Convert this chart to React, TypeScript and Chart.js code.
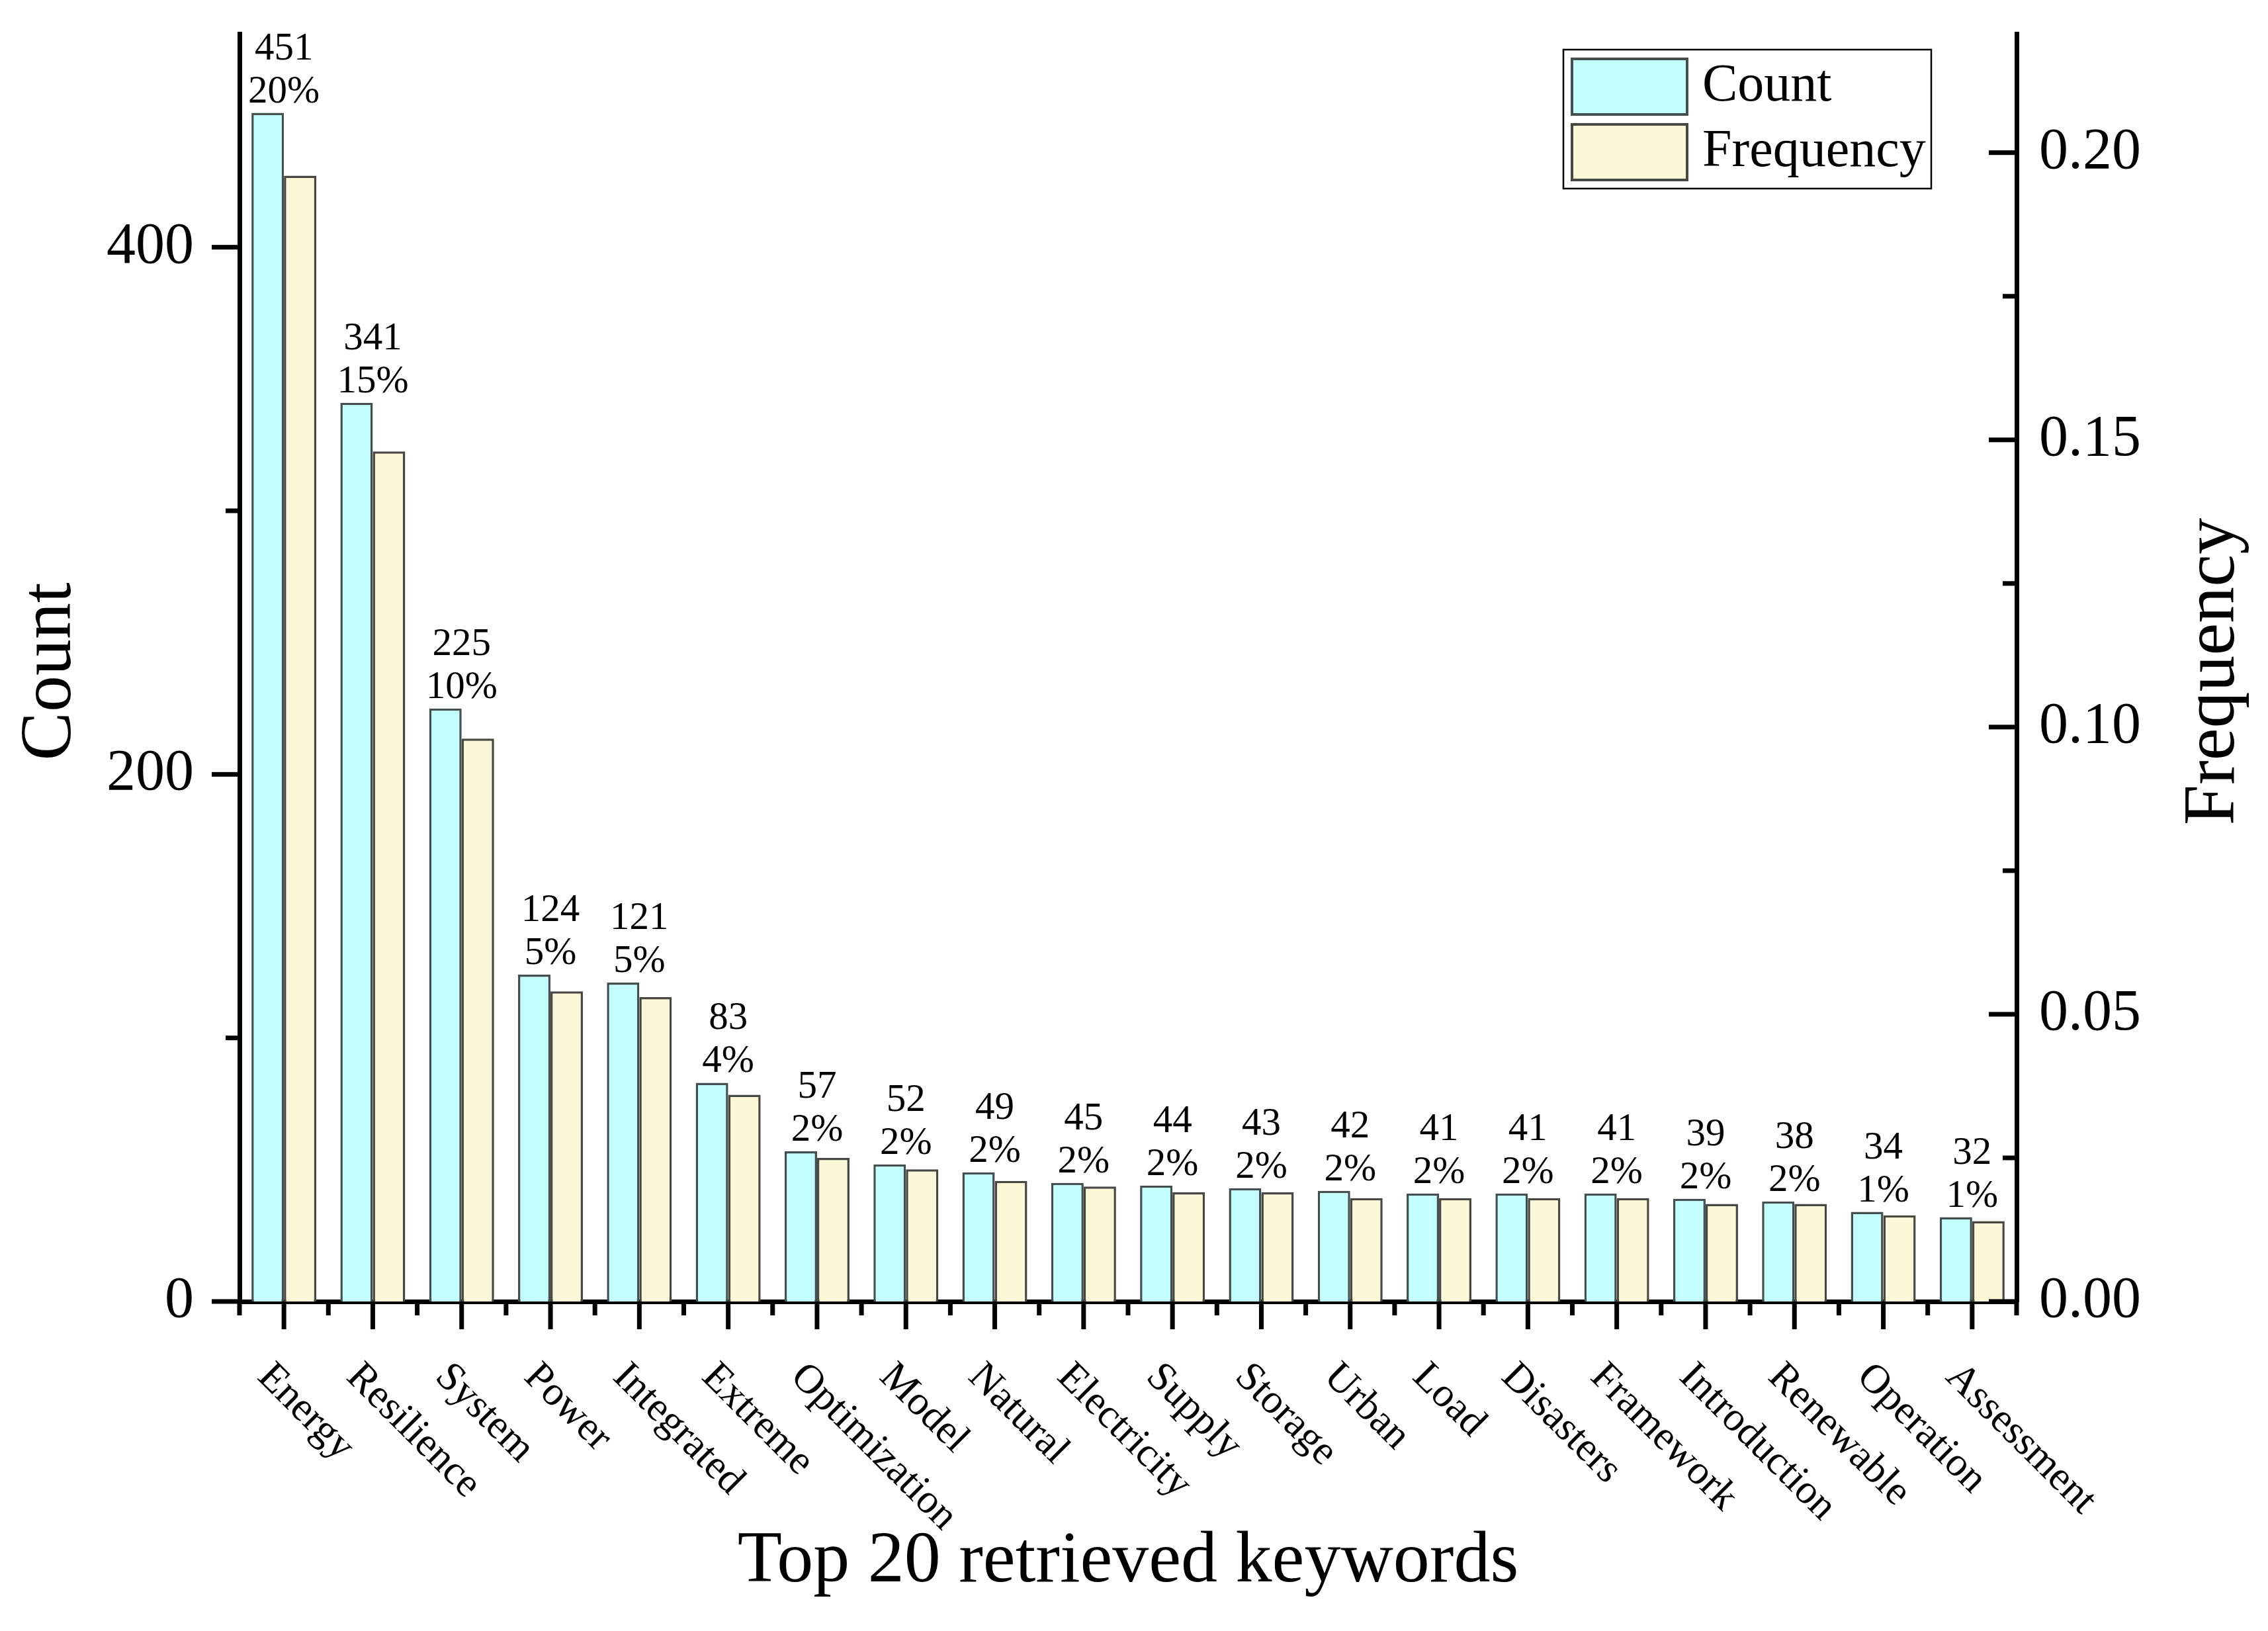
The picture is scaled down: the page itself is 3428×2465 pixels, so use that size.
import { useEffect, useRef } from 'react';
import { Chart, registerables } from 'chart.js';

Chart.register(...registerables);

const FONT = "'Liberation Serif', 'Times New Roman', serif";
const W = 3428;
const H = 2465;

// plot frame
const PLOT_LEFT = 362;
const PLOT_RIGHT = 3048;
const PLOT_TOP = 51;
const PLOT_BOTTOM = 1967;

const keywords = [
  'Energy', 'Resilience', 'System', 'Power', 'Integrated', 'Extreme', 'Optimization',
  'Model', 'Natural', 'Electricity', 'Supply', 'Storage', 'Urban', 'Load',
  'Disasters', 'Framework', 'Introduction', 'Renewable', 'Operation', 'Assessment',
];
const counts = [451, 341, 225, 124, 121, 83, 57, 52, 49, 45, 44, 43, 42, 41, 41, 41, 39, 38, 34, 32];
const frequencies = [
  0.196, 0.148, 0.098, 0.054, 0.053, 0.036, 0.025, 0.023, 0.021, 0.020,
  0.019, 0.019, 0.018, 0.018, 0.018, 0.018, 0.017, 0.017, 0.015, 0.014,
];
const percentLabels = [
  '20%', '15%', '10%', '5%', '5%', '4%', '2%', '2%', '2%', '2%',
  '2%', '2%', '2%', '2%', '2%', '2%', '2%', '2%', '1%', '1%',
];
const countTicks = [0, 200, 400];
const freqTicks = [0, 0.05, 0.1, 0.15, 0.2];

const TICK_W = 7;
const MAJOR = 42;
const MINOR = 21;

const decorPlugin = {
  id: 'decor',
  afterDatasetsDraw(chart: Chart) {
    const ctx = chart.ctx;
    const xs = chart.scales.x;
    const meta = chart.getDatasetMeta(0);
    ctx.save();
    ctx.fillStyle = '#000';
    ctx.font = `59px ${FONT}`;
    ctx.textAlign = 'center';
    ctx.textBaseline = 'alphabetic';
    meta.data.forEach((bar: any, i: number) => {
      const cx = xs.getPixelForValue(i);
      ctx.fillText(String(counts[i]), cx, bar.y - 81);
      ctx.fillText(percentLabels[i], cx, bar.y - 16);
    });
    ctx.restore();
  },
  afterDraw(chart: Chart) {
    const ctx = chart.ctx;
    const { x: xs, y: ys, y1: ys1 } = chart.scales;
    const area = chart.chartArea;
    ctx.save();
    ctx.fillStyle = '#000';

    // left axis ticks (outward)
    const lStep = countTicks[1] - countTicks[0];
    countTicks.forEach((v) => {
      const py = ys.getPixelForValue(v);
      ctx.fillRect(ys.right - MAJOR, py - TICK_W / 2, MAJOR, TICK_W);
      const m = v + lStep / 2;
      if (m <= ys.max) {
        const pm = ys.getPixelForValue(m);
        ctx.fillRect(ys.right - MINOR, pm - TICK_W / 2, MINOR, TICK_W);
      }
    });

    // right axis ticks (inward)
    const rStep = freqTicks[1] - freqTicks[0];
    freqTicks.forEach((v) => {
      const py = ys1.getPixelForValue(v);
      ctx.fillRect(ys1.left - MAJOR, py - TICK_W / 2, MAJOR, TICK_W);
      const m = v + rStep / 2;
      if (m <= ys1.max) {
        const pm = ys1.getPixelForValue(m);
        ctx.fillRect(ys1.left - MINOR, pm - TICK_W / 2, MINOR, TICK_W);
      }
    });

    // x axis ticks
    keywords.forEach((_, i) => {
      const px = xs.getPixelForValue(i);
      ctx.fillRect(px - TICK_W / 2, xs.top, TICK_W, MAJOR);
    });
    for (let i = 0; i <= keywords.length; i++) {
      const px = xs.getPixelForValue(i - 0.5);
      ctx.fillRect(px - TICK_W / 2, xs.top, TICK_W, MINOR);
    }

    // rotated category labels
    ctx.font = `62px ${FONT}`;
    ctx.textAlign = 'left';
    ctx.textBaseline = 'alphabetic';
    keywords.forEach((k, i) => {
      const px = xs.getPixelForValue(i);
      ctx.save();
      ctx.translate(px - 42, xs.top + 116);
      ctx.rotate(Math.PI / 4);
      ctx.fillText(k, 0, 0);
      ctx.restore();
    });

    // vertical axis titles
    const midY = (area.top + area.bottom) / 2 + 6;
    ctx.font = `110px ${FONT}`;
    ctx.textAlign = 'center';
    ctx.textBaseline = 'middle';
    ctx.save();
    ctx.translate(77, midY);
    ctx.rotate(-Math.PI / 2);
    ctx.fillText('Count', 0, 0);
    ctx.restore();
    ctx.save();
    ctx.translate(3347, midY);
    ctx.rotate(-Math.PI / 2);
    ctx.fillText('Frequency', 0, 0);
    ctx.restore();

    // legend
    const bx = area.right - 685;
    const by = area.top + 24;
    ctx.lineWidth = 2.5;
    ctx.strokeStyle = '#000';
    ctx.strokeRect(bx, by, 556, 210);
    ctx.font = `80px ${FONT}`;
    ctx.textAlign = 'left';
    chart.data.datasets.forEach((ds: any, i: number) => {
      const sy = by + 12 + i * 99;
      ctx.fillStyle = ds.backgroundColor;
      ctx.fillRect(bx + 11, sy, 178, 88);
      ctx.lineWidth = 4;
      ctx.strokeStyle = ds.borderColor;
      ctx.strokeRect(bx + 13, sy + 2, 174, 84);
      ctx.fillStyle = '#000';
      ctx.fillText(ds.label, bx + 210, sy + 44);
    });

    ctx.restore();
  },
};

export default function App() {
  const canvasRef = useRef<HTMLCanvasElement | null>(null);

  useEffect(() => {
    const canvas = canvasRef.current;
    if (!canvas) return;

    Chart.defaults.font.family = FONT;
    Chart.defaults.color = '#000';

    const chart = new Chart(canvas, {
      type: 'bar',
      data: {
        labels: keywords,
        datasets: [
          {
            label: 'Count',
            data: counts,
            yAxisID: 'y',
            backgroundColor: '#C4FFFF',
            borderColor: '#445050',
            borderWidth: 3.5,
            categoryPercentage: 0.73,
            barPercentage: 1,
          },
          {
            label: 'Frequency',
            data: frequencies,
            yAxisID: 'y1',
            backgroundColor: '#FBF7D7',
            borderColor: '#484842',
            borderWidth: 3.5,
            categoryPercentage: 0.73,
            barPercentage: 1,
          },
        ],
      },
      options: {
        responsive: false,
        animation: false,
        devicePixelRatio: 1,
        layout: { padding: { top: PLOT_TOP, left: 0, right: 0, bottom: 0 } },
        plugins: {
          legend: { display: false },
          tooltip: { enabled: false },
        },
        scales: {
          x: {
            z: 1,
            grid: { display: false, drawTicks: false },
            border: { display: true, color: '#000', width: TICK_W },
            ticks: { display: false },
            title: {
              display: true,
              text: 'Top 20 retrieved keywords',
              font: { size: 110, family: FONT },
              color: '#000',
              padding: { top: 0, bottom: 38 },
            },
            afterFit: (s: any) => {
              s.height = H - PLOT_BOTTOM;
              s.paddingLeft = 0;
              s.paddingRight = 0;
            },
          },
          y: {
            position: 'left',
            min: 0,
            max: 481,
            bounds: 'data',
            grid: { display: false, drawTicks: false },
            border: { display: true, color: '#000', width: TICK_W },
            ticks: {
              padding: 69,
              font: { size: 88, family: FONT },
              color: '#000',
            },
            afterBuildTicks: (s: any) => {
              s.ticks = countTicks.map((value) => ({ value }));
            },
            afterFit: (s: any) => {
              s.width = PLOT_LEFT;
              s.paddingTop = 0;
              s.paddingBottom = 0;
            },
          },
          y1: {
            position: 'right',
            min: 0,
            max: 0.2207,
            bounds: 'data',
            grid: { display: false, drawTicks: false },
            border: { display: true, color: '#000', width: TICK_W },
            ticks: {
              padding: 34,
              font: { size: 88, family: FONT },
              color: '#000',
              callback: (v: any) => Number(v).toFixed(2),
            },
            afterBuildTicks: (s: any) => {
              s.ticks = freqTicks.map((value) => ({ value }));
            },
            afterFit: (s: any) => {
              s.width = W - PLOT_RIGHT;
              s.paddingTop = 0;
              s.paddingBottom = 0;
            },
          },
        },
      },
      plugins: [decorPlugin],
    });

    return () => chart.destroy();
  }, []);

  return (
    <div style={{ position: 'fixed', left: 0, top: 0, width: W, height: H, background: '#fff' }}>
      <canvas ref={canvasRef} width={W} height={H} style={{ display: 'block', width: W, height: H }} />
    </div>
  );
}
